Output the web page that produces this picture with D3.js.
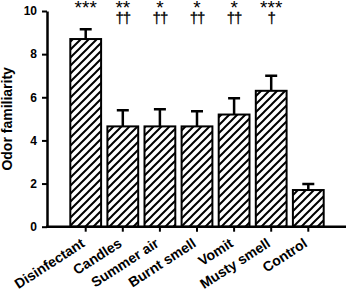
<!DOCTYPE html>
<html>
<head>
<meta charset="utf-8">
<script src="https://cdn.jsdelivr.net/npm/d3@7"></script>
<style>
  body { margin: 0; background: #fff; }
  svg { display: block; font-family: "Liberation Sans", Arial, sans-serif; }
</style>
</head>
<body>
<div id="chart"></div>
<script>
const categories = ["Disinfectant", "Candles", "Summer air", "Burnt smell", "Vomit", "Musty smell", "Control"];
const means = [8.7, 4.65, 4.65, 4.65, 5.2, 6.3, 1.7];
const errors = [0.45, 0.75, 0.8, 0.7, 0.75, 0.7, 0.28];
const stars = ["***", "**", "*", "*", "*", "***", ""];
const daggers = ["", "††", "††", "††", "††", "†", ""];
const yTicks = [0, 2, 4, 6, 8, 10];

const width = 347;
const height = 291;
const axisLeft = 47;
const axisRight = 346;

const svg = d3.select("#chart")
  .append("svg")
  .attr("width", width)
  .attr("height", height);

// hatch fill
svg.append("defs").append("pattern")
  .attr("id", "hatch")
  .attr("patternUnits", "userSpaceOnUse")
  .attr("width", 8)
  .attr("height", 8)
  .append("path")
  .attr("d", "M0,8 L8,0 M-2,2 L2,-2 M6,10 L10,6")
  .attr("stroke", "#000")
  .attr("stroke-width", 2);

const x = d3.scaleBand()
  .domain(categories)
  .range([64, 330])
  .padding(0.17);

const y = d3.scaleLinear()
  .domain([0, 10])
  .range([226.7, 11]);

// Bars
svg.selectAll(".bar")
  .data(categories)
  .join("rect")
  .attr("class", "bar")
  .attr("x", d => x(d))
  .attr("y", (d, i) => y(means[i]))
  .attr("width", x.bandwidth())
  .attr("height", (d, i) => y(0) - y(means[i]))
  .attr("fill", "url(#hatch)")
  .attr("stroke", "#000")
  .attr("stroke-width", 2);

// Error bars (upper only)
const cx = d => x(d) + x.bandwidth() / 2;
svg.selectAll(".err")
  .data(categories)
  .join("path")
  .attr("class", "err")
  .attr("d", (d, i) => {
    const top = y(means[i] + errors[i]);
    return `M${cx(d)},${y(means[i])}V${top}M${cx(d) - 6},${top}H${cx(d) + 6}`;
  })
  .attr("fill", "none")
  .attr("stroke", "#000")
  .attr("stroke-width", 2.5);

// Y axis
const yAxis = svg.append("g")
  .attr("transform", `translate(${axisLeft},0)`)
  .call(d3.axisLeft(y).tickValues(yTicks).tickSize(5).tickSizeOuter(0).tickPadding(5));
yAxis.select(".domain").attr("stroke-width", 2.5);
yAxis.selectAll(".tick line").attr("stroke-width", 2);
yAxis.selectAll(".tick text")
  .attr("font-size", "12px")
  .attr("font-weight", "bold")
  .attr("font-family", "Liberation Sans, Arial, sans-serif")
  .attr("fill", "#000");

// X axis line
svg.append("line")
  .attr("x1", axisLeft - 1)
  .attr("x2", axisRight)
  .attr("y1", y(0))
  .attr("y2", y(0))
  .attr("stroke", "#000")
  .attr("stroke-width", 2.5);

// X ticks
svg.selectAll(".xtick")
  .data(categories)
  .join("line")
  .attr("class", "xtick")
  .attr("x1", cx)
  .attr("x2", cx)
  .attr("y1", y(0))
  .attr("y2", y(0) + 5)
  .attr("stroke", "#000")
  .attr("stroke-width", 2);

// X labels
svg.selectAll(".xlabel")
  .data(categories)
  .join("text")
  .attr("class", "xlabel")
  .attr("transform", d => `translate(${cx(d)},${y(0) + 19}) rotate(-33)`)
  .attr("text-anchor", "end")
  .attr("font-size", "14px")
  .attr("font-weight", "bold")
  .text(d => d);

// Y label
svg.append("text")
  .attr("transform", `translate(12,${y(5)}) rotate(-90)`)
  .attr("text-anchor", "middle")
  .attr("font-size", "14px")
  .attr("font-weight", "bold")
  .text("Odor familiarity");

// Significance marks
svg.selectAll(".stars")
  .data(categories)
  .join("text")
  .attr("class", "stars")
  .attr("x", cx)
  .attr("y", 14)
  .attr("text-anchor", "middle")
  .attr("font-size", "19px")
  .text((d, i) => stars[i]);

// thin stroke keeps the daggers plain black
svg.selectAll(".daggers")
  .data(categories)
  .join("text")
  .attr("class", "daggers")
  .attr("x", cx)
  .attr("y", 23)
  .attr("text-anchor", "middle")
  .attr("font-size", "15px")
  .attr("letter-spacing", "-1px")
  .attr("fill", "#000")
  .attr("stroke", "#000")
  .attr("stroke-width", 0.3)
  .text((d, i) => daggers[i]);
</script>
</body>
</html>
